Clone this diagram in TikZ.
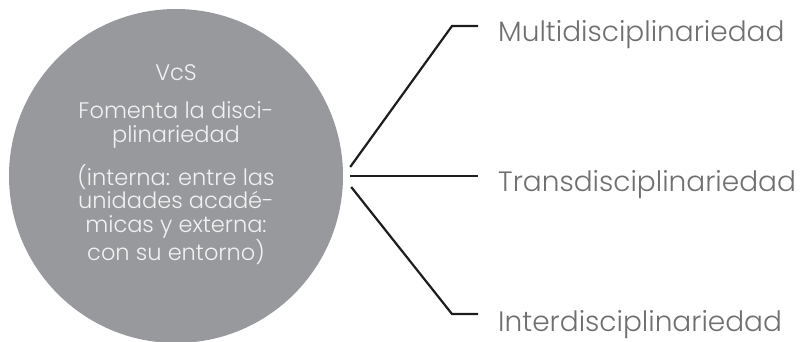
\documentclass[tikz,border=0pt]{standalone}
\usepackage{fontspec}
\setmainfont{Poppins}[UprightFont=* Light]
\usetikzlibrary{positioning}
\definecolor{circgray}{HTML}{97999C}
\definecolor{circtext}{HTML}{F2F2F2}
\definecolor{labgray}{HTML}{6F6F71}
\definecolor{linedark}{HTML}{1E1C1D}

\begin{document}
\begin{tikzpicture}[x=1pt, y=1pt]
\useasboundingbox (0, 0) rectangle (804, 342);
\node[circle, fill=circgray, minimum size=334pt, inner sep=0pt] (vcs) at (176, 166) {};
\node[text=circtext, align=center, anchor=north, font=\fontsize{22.5}{23.5}\selectfont] (vcsdesc) at (176, 281) {VcS\\[15pt]
  Fomenta la disci-\\plinariedad\\[15pt]
  (interna: entre las\\unidades acadé-\\micas y externa:\\con su entorno)};
\coordinate (b1) at ([shift={(7, 9)}]vcs.east);
\coordinate (b2) at ([shift={(7, 0)}]vcs.east);
\coordinate (b3) at ([shift={(8, -11)}]vcs.east);
\coordinate (e1) at (452, 316);
\coordinate (e3) at (452, 28);
\coordinate (h1) at (478, 316);
\coordinate (h2) at (478, 166);
\coordinate (h3) at (478, 28);
\node[text=labgray, font=\fontsize{28}{34}\selectfont, anchor=base west, inner sep=0pt] (multi) at (498, 300) {Multidisciplinariedad};
\node[text=labgray, font=\fontsize{28}{34}\selectfont, anchor=base west, inner sep=0pt] (trans) at (498, 150) {Transdisciplinariedad};
\node[text=labgray, font=\fontsize{28}{34}\selectfont, anchor=base west, inner sep=0pt] (inter) at (498, 10) {Interdisciplinariedad};
\draw[linedark, line width=2.2pt] (b1) -- (e1) -- (h1);
\draw[linedark, line width=2.2pt] (b2) -- (h2);
\draw[linedark, line width=2.2pt] (b3) -- (e3) -- (h3);
\end{tikzpicture}
\end{document}
